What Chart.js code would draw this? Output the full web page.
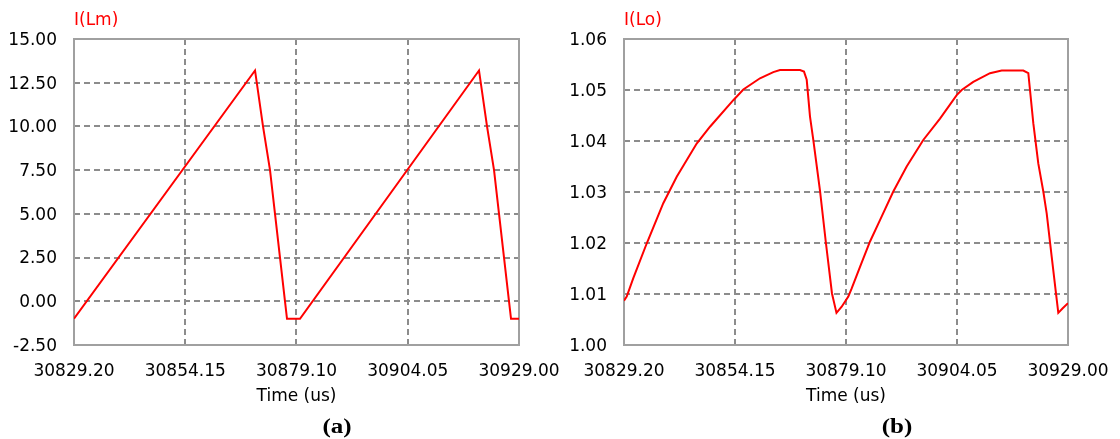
<!DOCTYPE html>
<html><head><meta charset="utf-8">
<script src="https://cdn.jsdelivr.net/npm/chart.js@4/dist/chart.umd.min.js"></script>
<style>
html,body{margin:0;padding:0;background:#fff;width:1120px;height:439px;overflow:hidden;position:relative}
.cap{position:absolute;font-family:"Liberation Serif","Times New Roman",serif;font-weight:bold;font-size:20px;color:#000;transform:translate(-50%,-50%) scaleX(1.25);white-space:nowrap;line-height:1}
</style></head><body>
<canvas id="ca" width="600" height="439" style="position:absolute;left:0;top:0"></canvas>
<canvas id="cb" width="580" height="439" style="position:absolute;left:540px;top:0"></canvas>
<div class="cap" style="left:337px;top:426px">(a)</div>
<div class="cap" style="left:897px;top:426px">(b)</div>
<script>
// ---- data ----
const timeTicks = [30829.20, 30854.15, 30879.10, 30904.05, 30929.00];
const lmTicks = [-2.5, 0, 2.5, 5, 7.5, 10, 12.5, 15];
const loTicks = [1.00, 1.01, 1.02, 1.03, 1.04, 1.05, 1.06];

const lmTime = [30829.20, 30869.80, 30871.59, 30873.16, 30874.28, 30875.40, 30876.52, 30876.97,
                30879.88, 30920.03, 30921.83, 30923.40, 30924.52, 30925.64, 30926.76, 30927.21, 30929.00];
const lmVal  = [-1.0, 13.2, 10.0, 7.5, 5.0, 2.5, 0.0, -1.0,
                -1.0, 13.2, 10.0, 7.5, 5.0, 2.5, 0.0, -1.0, -1.0];

const loTime = [30829.20, 30829.81, 30831.29, 30834.30, 30838.03, 30841.05, 30845.54, 30848.53,
                30853.77, 30856.02, 30859.77, 30862.76, 30864.26, 30868.76, 30869.66, 30870.27,
                30871.01, 30871.75, 30873.26, 30874.60, 30875.95, 30876.96, 30878.13, 30879.62,
                30880.38, 30882.25, 30884.50, 30886.74, 30889.73, 30892.74, 30896.47, 30900.23,
                30903.98, 30905.10, 30907.71, 30911.47, 30914.10, 30918.95, 30920.08, 30921.20,
                30922.32, 30923.45, 30924.21, 30925.34, 30926.30, 30926.82, 30927.81, 30929.00];
const loVal  = [1.0087, 1.0095, 1.0131, 1.0199, 1.0278, 1.0330, 1.0395, 1.0428,
                1.0480, 1.0501, 1.0523, 1.0535, 1.0539, 1.0539, 1.0536, 1.0520,
                1.0448, 1.0402, 1.0302, 1.0199, 1.0101, 1.0063, 1.0075, 1.0095,
                1.0111, 1.0153, 1.0203, 1.0245, 1.0301, 1.0350, 1.0402, 1.0444,
                1.0490, 1.0500, 1.0516, 1.0533, 1.0538, 1.0538, 1.0533, 1.0435,
                1.0356, 1.0301, 1.0258, 1.0173, 1.0101, 1.0063, 1.0072, 1.0082];

// ---- chart setup ----
Chart.defaults.font.family = "'DejaVu Sans', Verdana, sans-serif";
Chart.defaults.color = '#000';

const frame = {
  id: 'frame',
  beforeDatasetsDraw(c) {
    const a = c.chartArea, x = c.ctx;
    x.save();
    x.strokeStyle = '#a0a0a0';
    x.lineWidth = 2;
    x.setLineDash([]);
    x.strokeRect(a.left, a.top, a.right - a.left, a.bottom - a.top);
    x.restore();
  }
};

function makeChart(id, title, times, vals, yTicks, yMin, yMax, yWidth, padRight) {
  return new Chart(document.getElementById(id), {
    type: 'line',
    data: {
      datasets: [{
        data: times.map((t, i) => ({x: t, y: vals[i]})),
        borderColor: '#ff0000',
        borderWidth: 2,
        pointRadius: 0,
        tension: 0,
        fill: false
      }]
    },
    options: {
      responsive: false,
      animation: false,
      devicePixelRatio: 1,
      layout: {padding: {left: 0, right: padRight, top: 0, bottom: 0}},
      plugins: {
        legend: {display: false},
        tooltip: {enabled: false},
        title: {
          display: true,
          text: title,
          align: 'start',
          fullSize: false,
          color: '#ff0000',
          font: {size: 17, weight: 'normal'},
          padding: {top: 10, bottom: 8.6}
        }
      },
      scales: {
        x: {
          type: 'linear',
          min: timeTicks[0],
          max: timeTicks[timeTicks.length - 1],
          afterBuildTicks(s) { s.ticks = timeTicks.map(v => ({value: v})); },
          afterFit(s) { s.height = 94; s.paddingLeft = 0; s.paddingRight = 0; },
          ticks: {
            autoSkip: false, maxRotation: 0, minRotation: 0,
            padding: 16,
            font: {size: 17},
            color: '#000',
            callback: v => Number(v).toFixed(2)
          },
          grid: {color: '#8c8c8c', lineWidth: 2, drawTicks: false},
          border: {display: false, dash: [6, 4]},
          title: {
            display: true, text: 'Time (us)', color: '#000',
            font: {size: 17}, padding: {top: 0, bottom: 32}
          }
        },
        y: {
          type: 'linear',
          min: yMin,
          max: yMax,
          afterBuildTicks(s) { s.ticks = yTicks.map(v => ({value: v})); },
          afterFit(s) { s.width = yWidth; s.paddingTop = 0; s.paddingBottom = 0; },
          ticks: {
            padding: 17,
            labelOffset: 1.5,
            font: {size: 17},
            color: '#000',
            callback: v => Number(v).toFixed(2)
          },
          grid: {color: '#8c8c8c', lineWidth: 2, drawTicks: false},
          border: {display: false, dash: [6, 4]}
        }
      }
    },
    plugins: [frame]
  });
}

makeChart('ca', 'I(Lm)', lmTime, lmVal, lmTicks, -2.5, 15, 74, 81);
makeChart('cb', 'I(Lo)', loTime, loVal, loTicks, 1.00, 1.06, 84, 52);
</script>
</body></html>
